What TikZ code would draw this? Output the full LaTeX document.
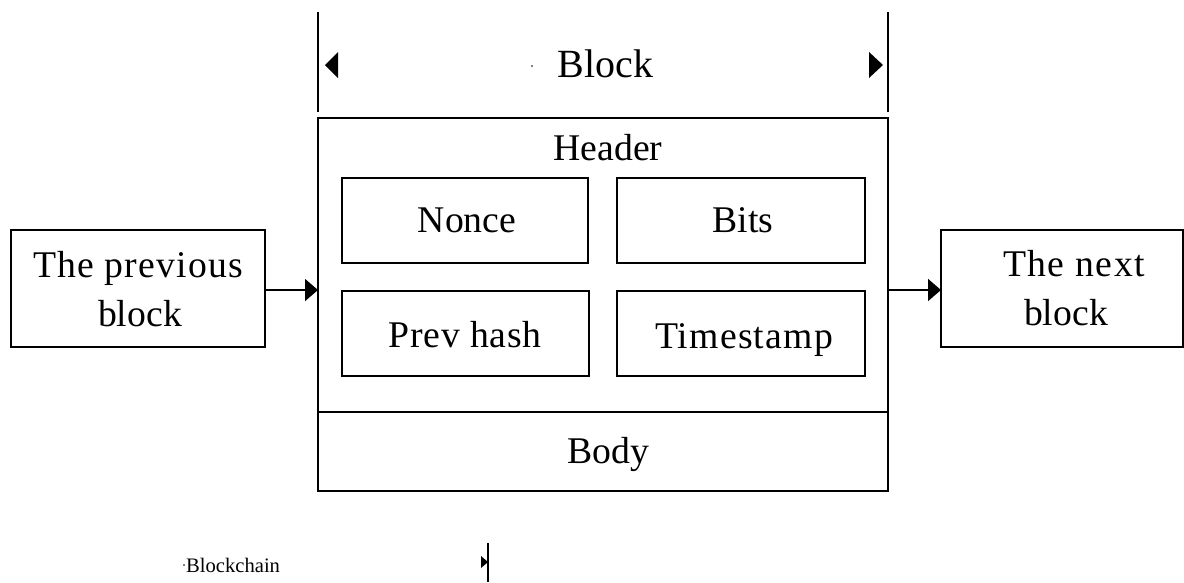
\documentclass[tikz,border=0pt]{standalone}
\usepackage{fontspec}
\setmainfont{Liberation Serif}
\usetikzlibrary{arrows.meta}
\begin{document}
\begin{tikzpicture}[x=1pt,y=-1pt,
  box/.style={draw, line width=1.6pt, inner sep=0pt, outer sep=0pt},
  lbl/.style={anchor=base, inner sep=0pt, font=\fontsize{37.7}{36}\selectfont},
  big/.style={anchor=base, inner sep=0pt, font=\fontsize{40}{40}\selectfont},
  small/.style={anchor=base west, inner sep=0pt, font=\fontsize{20.6}{22}\selectfont},
  ln/.style={line width=1.6pt},
  conn/.style={line width=1.6pt, -{Triangle[length=13pt,width=22pt]}},
  tipfill/.style={fill=black}]
\useasboundingbox (0,0) rectangle (1184,582);
% boxes
\node[box, minimum width=570pt, minimum height=373pt] (main) at (603,304.5) {};
\node[box, minimum width=246pt, minimum height=85pt] (nonce) at (465,220.5) {};
\node[box, minimum width=248pt, minimum height=85pt] (bits) at (741,220.5) {};
\node[box, minimum width=247pt, minimum height=85pt] (prevhash) at (465.5,333.5) {};
\node[box, minimum width=248pt, minimum height=85pt] (timestamp) at (741,333.5) {};
\node[box, minimum width=254pt, minimum height=117pt] (prev) at (138,288.5) {};
\node[box, minimum width=242pt, minimum height=117pt] (next) at (1062,288.5) {};
% divider
\coordinate (divy) at (603,412);
\draw[ln] (main.west |- divy) -- (main.east |- divy);
% labels
\node[lbl] (header) at (608,160) {Header};
\node[lbl] (tnonce) at (467,232) {Nonce};
\node[lbl] (tbits) at (743,232) {Bits};
\node[lbl] (tprevhash) at (465,347) {\addfontfeature{LetterSpace=1.8}Prev hash};
\node[lbl] (ttimestamp) at (744,348) {\addfontfeature{LetterSpace=3.2}Timestamp};
\node[lbl] (tbody) at (608,463) {Body};
\node[lbl] (tprev1) at (138,277) {\addfontfeature{LetterSpace=3.2}The previous};
\node[lbl] (tprev2) at (140,326) {block};
\node[lbl] (tnext1) at (1074,276) {\addfontfeature{LetterSpace=3.8}The next};
\node[lbl] (tnext2) at (1066,325) {block};
\node[big] (tblock) at (605.5,77) {Block};
\node[small] (tchain) at (186,572) {Blockchain};
% connectors
\draw[conn] (prev.east |- 0,290) -- (main.west |- 0,290);
\draw[conn] (main.east |- 0,290) -- (next.west |- 0,290);
% dimension lines
\coordinate (dl1) at (318,12); \coordinate (dl2) at (318,112);
\coordinate (dr1) at (888,12); \coordinate (dr2) at (888,112);
\coordinate (db1) at (488,543); \coordinate (db2) at (488,582);
\draw[ln] (dl1) -- (dl2);
\draw[ln] (dr1) -- (dr2);
\draw[ln] (db1) -- (db2);
\fill[tipfill] (325,65) -- (338,52) -- (338,78) -- cycle;
\fill[tipfill] (883,65) -- (869,52) -- (869,78) -- cycle;
\fill[tipfill] (488,562) -- (481,556) -- (481,568) -- cycle;
% stray dots
\fill (532,66) circle (0.8pt);
\fill (184,565) circle (0.8pt);
\end{tikzpicture}
\end{document}
